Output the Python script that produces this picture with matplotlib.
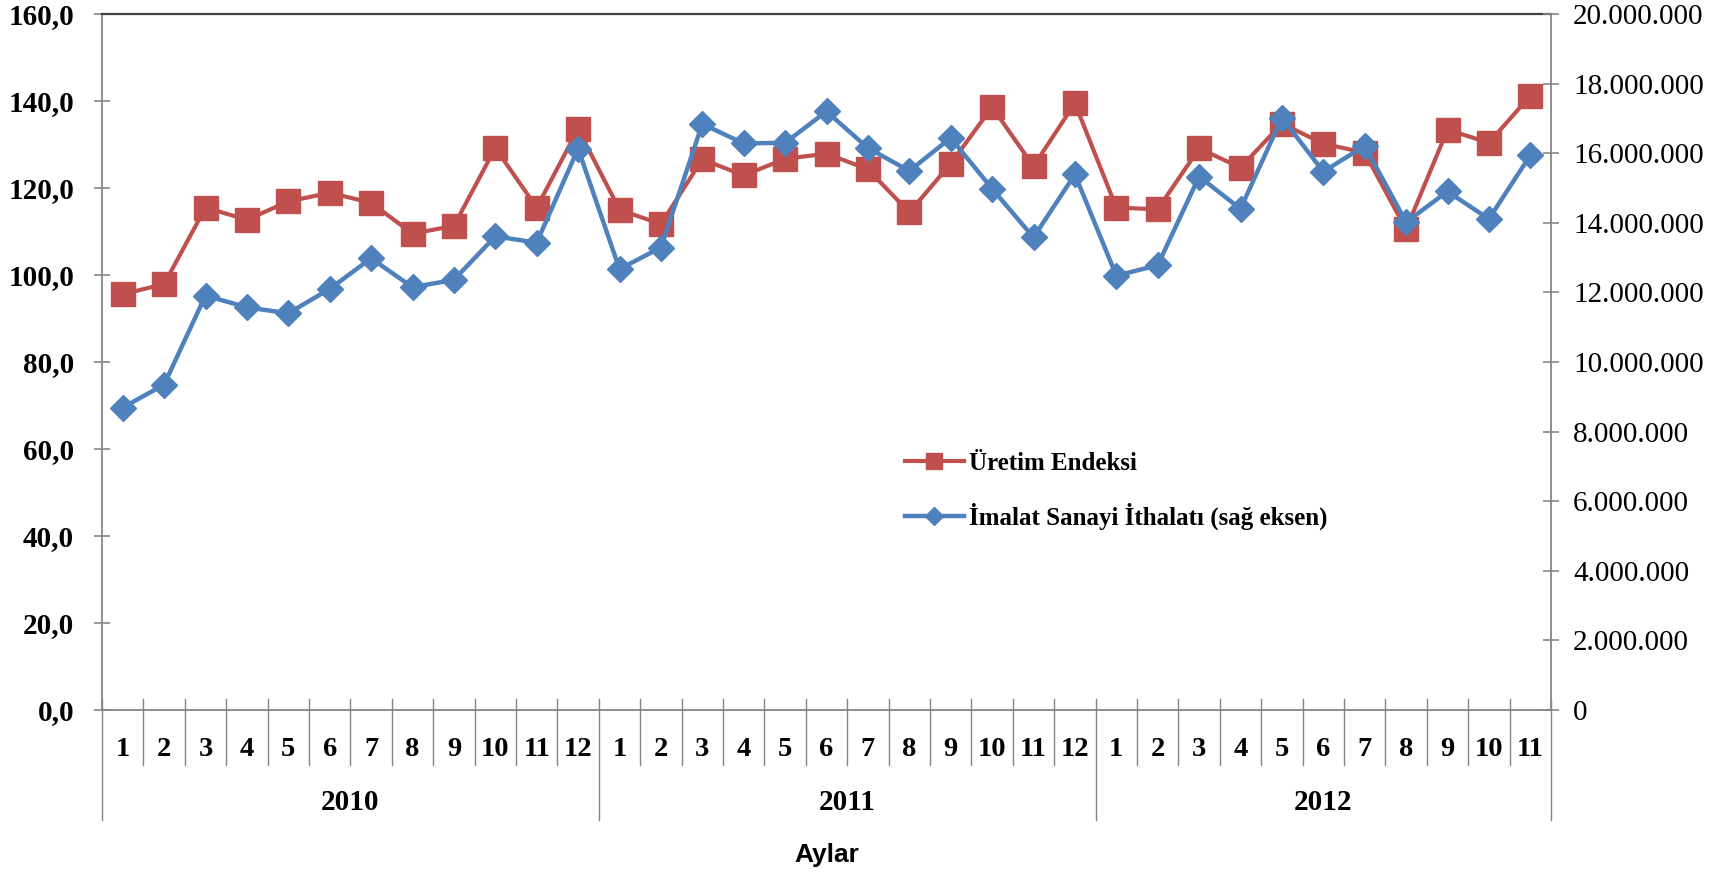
import numpy as np
import matplotlib
matplotlib.use('Agg')
import matplotlib.pyplot as plt
import matplotlib.transforms as mtransforms
from matplotlib.ticker import FuncFormatter, MultipleLocator

plt.rcParams['font.family'] = ['Liberation Serif', 'DejaVu Serif']

# data
years = ['2010', '2011', '2012']
months_per_year = [12, 12, 11]
month_labels = ['1', '2', '3', '4', '5', '6', '7', '8', '9', '10', '11', '12',
                '1', '2', '3', '4', '5', '6', '7', '8', '9', '10', '11', '12',
                '1', '2', '3', '4', '5', '6', '7', '8', '9', '10', '11']

# Üretim Endeksi (left axis)
uretim = [95.6, 97.9, 115.5, 112.7, 116.9, 118.9, 116.6, 109.5, 111.3, 129.2, 115.5, 133.6,
          115.0, 111.7, 126.6, 122.9, 126.7, 127.9, 124.3, 114.4, 125.6, 138.6, 125.0, 139.5,
          115.5, 115.1, 129.1, 124.7, 134.8, 130.2, 128.1, 110.5, 133.4, 130.4, 141.2]

# İmalat Sanayi İthalatı (right axis)
ithalat = [8.69e6, 9.35e6, 11.91e6, 11.57e6, 11.40e6, 12.10e6, 12.98e6, 12.15e6, 12.36e6, 13.61e6, 13.43e6, 16.13e6,
           12.67e6, 13.29e6, 16.84e6, 16.28e6, 16.30e6, 17.20e6, 16.15e6, 15.49e6, 16.44e6, 14.98e6, 13.58e6, 15.39e6,
           12.48e6, 12.78e6, 15.33e6, 14.40e6, 17.02e6, 15.47e6, 16.21e6, 14.02e6, 14.90e6, 14.11e6, 15.94e6]

red = '#C0504D'
blue = '#4F81BD'
grey = '#868686'

fig = plt.figure(figsize=(17.25, 8.74), dpi=100)
ax = fig.add_axes([102 / 1725, 1 - 710 / 874, (1551 - 102) / 1725, 696 / 874])
ax2 = ax.twinx()

x = np.arange(len(uretim))
l1, = ax.plot(x, uretim, color=red, lw=3, marker='s', ms=17, label='Üretim Endeksi', zorder=3)
l2, = ax2.plot(x, ithalat, color=blue, lw=3.2, marker='D', ms=13,
               label='İmalat Sanayi İthalatı (sağ eksen)', zorder=3)

ax.set_xlim(-0.5, len(uretim) - 0.5)
ax.set_ylim(0, 160)
ax2.set_ylim(0, 20e6)
ax.yaxis.set_major_locator(MultipleLocator(20))
ax2.yaxis.set_major_locator(MultipleLocator(2e6))
ax.yaxis.set_major_formatter(FuncFormatter(lambda v, p: f'{v:.1f}'.replace('.', ',')))
ax2.yaxis.set_major_formatter(FuncFormatter(lambda v, p: f'{int(v):,}'.replace(',', '.')))

# spines
for s in ['left', 'bottom']:
    ax.spines[s].set_color(grey)
    ax.spines[s].set_linewidth(1.3)
ax.spines['right'].set_visible(False)
ax.spines['top'].set_color('#404040')
ax.spines['top'].set_linewidth(1.6)
for s in ['left', 'top', 'bottom']:
    ax2.spines[s].set_visible(False)
ax2.spines['right'].set_color(grey)
ax2.spines['right'].set_linewidth(1.3)

ax.tick_params(axis='y', direction='inout', length=12, width=1.2, color=grey, pad=14,
               labelsize=21)
for t in ax.get_yticklabels():
    t.set_fontweight('bold')
ax2.tick_params(axis='y', direction='inout', length=12, width=1.2, color=grey, pad=10,
                labelsize=21)
ax.set_xticks([])

# category axis: month cells and year groups
trans = mtransforms.blended_transform_factory(ax.transData, ax.transAxes)
m_top, m_bot, y_bot = 11 / 696, -55 / 696, -110 / 696
bounds = np.arange(len(uretim) + 1) - 0.5
year_bounds = np.concatenate([[0], np.cumsum(months_per_year)]) - 0.5
for b in bounds:
    bottom = y_bot if b in year_bounds else m_bot
    ax.plot([b, b], [m_top, bottom], transform=trans, clip_on=False, color=grey, lw=1)
for i, lab in enumerate(month_labels):
    ax.text(i, -39 / 696, lab, transform=trans, ha='center', va='center',
            fontsize=20.5, fontweight='bold')
for j, yr in enumerate(years):
    mid = (year_bounds[j] + year_bounds[j + 1]) / 2
    ax.text(mid, -92 / 696, yr, transform=trans, ha='center', va='center',
            fontsize=21, fontweight='bold')
ax.text(0.5, -145 / 696, 'Aylar', transform=ax.transAxes, ha='center', va='center',
        fontsize=19, fontweight='bold', family=['Liberation Sans Narrow', 'Liberation Sans'])

leg = ax2.legend(handles=[l1, l2], loc='upper left', bbox_to_anchor=(905 / 1725, 1 - 452 / 874),
                 bbox_transform=fig.transFigure, frameon=False, borderpad=0, borderaxespad=0,
                 handlelength=2.35, handletextpad=0.2, labelspacing=1.1,
                 prop={'size': 18, 'weight': 'bold'})
leg.legend_handles[0].set_markersize(11)
leg.legend_handles[1].set_markersize(9)

fig.savefig('out.png', dpi=100)
